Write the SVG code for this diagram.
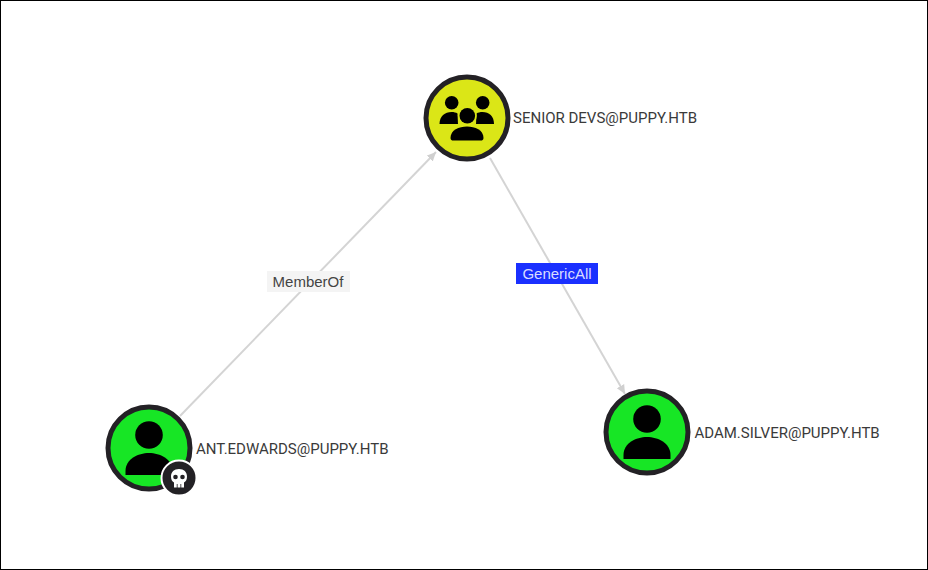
<svg xmlns="http://www.w3.org/2000/svg" width="928" height="570" viewBox="0 0 928 570">
<style>
.lbl{font-family:Roboto,"Liberation Sans",sans-serif;font-size:15px;fill:#3a3a3a}
.edge{font-family:"Liberation Sans",Roboto,sans-serif;font-size:15px;text-anchor:middle}
.ring{stroke:#232125;stroke-width:5}
.g{fill:#17e625}
.y{fill:#dbe617}
.ln{stroke:#d4d4d4;stroke-width:2;fill:none;marker-end:url(#arr)}
</style>
<defs>
<marker id="arr" markerUnits="userSpaceOnUse" markerWidth="10" markerHeight="10" refX="9" refY="5" orient="auto"><path d="M0 0.8L9 5L0 9.2Z" fill="#d0d0d0"/></marker>
<g id="person"><circle cx="0" cy="-13" r="13.800"/><path d="M-23.500 27V23C-23.500 11-11 5 0 5S23.500 11 23.500 23V27Z"/></g>
</defs>
<rect x="0.5" y="0.5" width="927" height="569" fill="#fff" stroke="#000"/>
<g id="connectors">
<path class="ln" d="M180 416L436 152"/>
<path class="ln" d="M490 158L625 394"/>
<g id="edge-memberof"><rect x="267" y="271" width="83" height="21" fill="#f4f4f4"/><text class="edge" x="308" y="287" fill="#444">MemberOf</text></g>
<g id="edge-genericall"><rect x="516" y="263" width="82" height="21" fill="#1a30ff"/><text class="edge" x="557" y="279" fill="#d8dcff">GenericAll</text></g>
</g>
<g id="node-senior-devs">
<circle class="ring y" cx="467" cy="118" r="41"/>
<g fill="#000">
<circle cx="451.700" cy="102.700" r="6.800"/><circle cx="482.700" cy="102.700" r="6.800"/>
<path d="M439.500 124C439.500 116 445 112 451.500 112C454 112 456 112.500 457.500 113.500L458 124Z"/>
<path d="M494 124C494 116 489 112 482.500 112C480 112 478 112.500 476.500 113.500L476 124Z"/>
<circle cx="467.300" cy="115.700" r="9.500" fill="#dbe617"/>
<circle cx="467.300" cy="115.700" r="7.800"/>
<path d="M450.500 138C450.500 130 459 126.500 467 126.500S483.500 130 483.500 138C483.500 140 482 140.500 481 140.500H453C452 140.500 450.500 140 450.500 138Z"/>
</g>
<text class="lbl" x="513" y="123">SENIOR DEVS@PUPPY.HTB</text>
</g>
<g id="node-ant-edwards">
<circle class="ring g" cx="149" cy="448" r="41"/>
<use href="#person" x="149" y="448"/>
<circle cx="179" cy="478" r="17.500" fill="#232125" stroke="#fff" stroke-width="2"/>
<path fill="#fff" d="M179 469C174 469 171 472 171 476.500C171 479.500 172 481.500 174 482.500V487.500H184V482.500C186 481.500 187 479.500 187 476.500C187 472 184 469 179 469Z"/>
<circle cx="175.500" cy="477" r="2.300" fill="#232125"/><circle cx="182.500" cy="477" r="2.300" fill="#232125"/>
<path d="M177.200 484V488M180.800 484V488" stroke="#232125" stroke-width="0.800"/>
<text class="lbl" x="196" y="454">ANT.EDWARDS@PUPPY.HTB</text>
</g>
<g id="node-adam-silver">
<circle class="ring g" cx="647" cy="432" r="41"/>
<use href="#person" x="647" y="432"/>
<text class="lbl" x="694.500" y="437.500">ADAM.SILVER@PUPPY.HTB</text>
</g>
</svg>
